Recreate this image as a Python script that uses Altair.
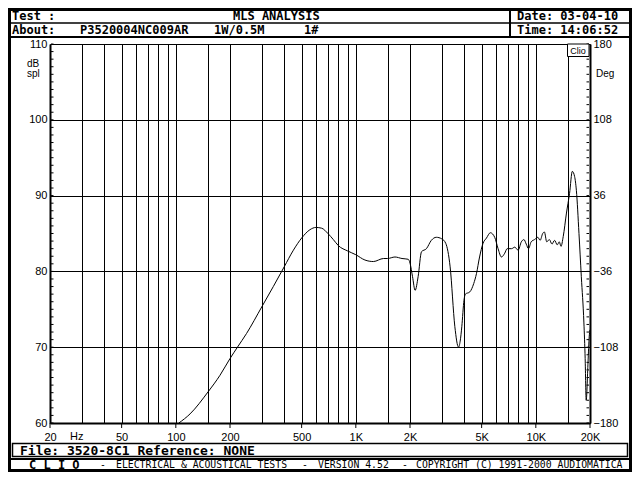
import altair as alt
import pandas as pd

freq_hz = [104, 120, 151, 176, 200, 220, 247, 300, 348, 400,
           450, 500, 556, 600, 646, 700, 750, 800, 900, 1000,
           1124, 1252, 1426, 1500, 1650, 1805, 1955, 2000, 2066, 2135,
           2219, 2317, 2468, 2628, 2800, 3000, 3160, 3342, 3550, 3720,
           3800, 3880, 3990, 4060, 4300, 4520, 4680, 4870, 5090, 5320,
           5590, 5910, 6170, 6440, 6720, 6930, 7330, 7640, 7970, 8310,
           8590, 8850, 9110, 9420, 9840, 10260, 10570, 10920, 11160, 11500,
           11890, 12300, 12710, 13160, 13500, 13800, 14200, 14800, 15400, 15950,
           16430, 16800, 17370, 17900, 18500, 18800, 19050, 19500, 19800, 20000]
spl_db = [60.0, 61.2, 64.1, 66.3, 68.5, 70.0, 71.8, 75.3, 78.0, 80.6,
          82.8, 84.4, 85.5, 85.8, 85.7, 85.0, 84.2, 83.4, 82.7, 82.2,
          81.5, 81.3, 81.7, 81.7, 81.9, 81.7, 81.6, 81.1, 79.3, 77.5,
          79.3, 82.6, 83.0, 84.1, 84.5, 84.3, 83.7, 80.6, 72.7, 70.0,
          70.8, 72.7, 76.2, 77.0, 77.3, 78.4, 79.7, 81.9, 83.7, 84.4,
          85.1, 84.5, 83.0, 81.9, 82.4, 83.0, 83.0, 83.2, 82.8, 83.9,
          84.2, 83.6, 83.0, 83.9, 84.2, 84.5, 84.1, 85.0, 85.2, 83.9,
          84.2, 83.6, 84.1, 83.5, 83.9, 83.3, 84.6, 87.7, 90.3, 93.2,
          92.5, 90.7, 85.0, 79.3, 73.2, 68.5, 63.0, 68.0, 71.4, 72.3]

# ---- axes ----
grid_freqs = [30, 40, 50, 60, 70, 80, 90, 100, 150, 200, 300, 400, 500, 600, 700,
              800, 900, 1000, 1500, 2000, 3000, 4000, 5000, 6000, 7000, 8000, 9000,
              10000, 15000]
label_freqs = [20, 50, 100, 200, 500, 1000, 2000, 5000, 10000, 20000]
db_ticks = [60, 70, 80, 90, 100, 110]
minor_db = list(range(60, 111))
phase_ticks = [-180, -108, -36, 36, 108, 180]

# ---- texts ----
header_row1 = [("Test :", 12), ("MLS ANALYSIS", 233), ("Date: 03-04-10", 517)]
header_row2 = [("About:", 12), ("P3520004NC009AR", 80), ("1W/0.5M", 214), ("1#", 304),
               ("Time: 14:06:52", 517)]
footer_file = "File: 3520-8C1 Reference: NONE"
footer_parts = [("-", 100), ("ELECTRICAL & ACOUSTICAL TESTS", 116), ("-", 302),
                ("VERSION 4.52", 318), ("-", 402),
                ("COPYRIGHT (C) 1991-2000 AUDIOMATICA", 416)]

W, H = 540, 379
OX, OY = 50, 44  # page position of plot origin
AXIS_FONT = "Liberation Sans"
MONO = "DejaVu Sans Mono"

df = pd.DataFrame({"f": freq_hz, "db": spl_db})

xscale = alt.Scale(type="log", domain=[20, 20000], nice=False)
yscale = alt.Scale(domain=[60, 110], nice=False, zero=False)

label_expr = ("indexof([20,50,100,200,500,1000,2000,5000,10000,20000], datum.value) >= 0 ? "
              "(datum.value >= 1000 ? (datum.value/1000) + 'K' : datum.value + '') : ''")

line = alt.Chart(df).mark_line(color="black", strokeWidth=1, clip=True,
                               interpolate="monotone").encode(
    x=alt.X("f:Q", scale=xscale, title=None,
            axis=alt.Axis(values=[20] + grid_freqs + [20000], grid=True, gridColor="black",
                          gridWidth=1, gridOpacity=1, ticks=False, domainColor="black",
                          domainWidth=2, labelExpr=label_expr, labelFont=AXIS_FONT,
                          labelFontSize=11, labelColor="black", labelPadding=8,
                          labelFlush=False, labelOverlap=False)),
    y=alt.Y("db:Q", scale=yscale, title=None,
            axis=alt.Axis(values=db_ticks, grid=True, gridColor="black", gridWidth=1,
                          gridOpacity=1, ticks=False, domainColor="black", domainWidth=2,
                          labelFont=AXIS_FONT, labelFontSize=11, labelColor="black",
                          labelPadding=3, orient="left", labelFlush=False)),
)

phase = alt.Chart(pd.DataFrame({"p": phase_ticks})).mark_point(opacity=0).encode(
    y=alt.Y("p:Q", scale=alt.Scale(domain=[-180, 180], nice=False, zero=False), title=None,
            axis=alt.Axis(values=phase_ticks, orient="right", grid=False, ticks=False,
                          domainColor="black", domainWidth=2, labelFont=AXIS_FONT,
                          labelFontSize=11, labelColor="black", labelPadding=3,
                          labelFlush=False)),
)

mdf = pd.DataFrame({"db": minor_db})
minor_left = alt.Chart(mdf).mark_rule(color="black", strokeWidth=1).encode(
    x=alt.value(1), x2=alt.value(3.5),
    y=alt.Y("db:Q", scale=yscale, axis=None))
minor_right = alt.Chart(mdf).mark_rule(color="black", strokeWidth=1).encode(
    x=alt.value(W - 3.5), x2=alt.value(W - 1),
    y=alt.Y("db:Q", scale=yscale, axis=None))

bottom_ticks = alt.Chart(pd.DataFrame({"f": label_freqs})).mark_rule(
    color="black", strokeWidth=1).encode(
    x=alt.X("f:Q", scale=xscale, title=None), y=alt.value(H), y2=alt.value(H + 5))


def txt(t, px, py, size=13, bold=True, font=MONO, align="left"):
    return alt.Chart(pd.DataFrame({"t": [t]})).mark_text(
        font=font, fontSize=size, fontWeight="bold" if bold else "normal",
        align=align, baseline="middle", color="black").encode(
        x=alt.value(px - OX), y=alt.value(py - OY), text="t:N")


def box(x1, y1, x2, y2, sw=1.5, fill=None):
    kw = dict(stroke="black", strokeWidth=sw)
    if fill:
        kw["fill"] = fill
    else:
        kw["fillOpacity"] = 0
    return alt.Chart(pd.DataFrame({"a": [0]})).mark_rect(**kw).encode(
        x=alt.value(x1 - OX), x2=alt.value(x2 - OX),
        y=alt.value(y1 - OY), y2=alt.value(y2 - OY))


def hline(x1, x2, y, sw=2):
    return alt.Chart(pd.DataFrame({"a": [0]})).mark_rule(color="black", strokeWidth=sw).encode(
        x=alt.value(x1 - OX), x2=alt.value(x2 - OX), y=alt.value(y - OY))


def vline(x, y1, y2, sw=2):
    return alt.Chart(pd.DataFrame({"a": [0]})).mark_rule(color="black", strokeWidth=sw).encode(
        x=alt.value(x - OX), y=alt.value(y1 - OY), y2=alt.value(y2 - OY))


deco = [
    box(9.5, 9.5, 630.5, 470.5, sw=3),
    hline(8, 632, 23, sw=1.5), hline(8, 632, 37), vline(510, 8, 38),
    box(12.5, 443.5, 627.5, 456.5, sw=1.5),
    hline(8, 632, 459),
    box(567.5, 44, 589, 56.5, sw=1, fill="white"),
    txt("Clio", 578, 50.5, size=9, bold=False, font=AXIS_FONT, align="center"),
    txt("dB", 27, 63.5, size=10, bold=False, font=AXIS_FONT),
    txt("spl", 27, 73.5, size=10, bold=False, font=AXIS_FONT),
    txt("Deg", 596, 74, size=10, bold=False, font=AXIS_FONT),
    txt("Hz", 70, 436.5, size=11, bold=False, font=AXIS_FONT),
    txt(footer_file, 20, 450.5, size=13),
    txt("C L I O", 29, 464.5, size=12),
]
for t, x in header_row1:
    deco.append(txt(t, x, 16, size=12))
for t, x in header_row2:
    deco.append(txt(t, x, 30, size=12))
for t, x in footer_parts:
    deco.append(txt(t, x, 464.5, size=9.8, bold=False))

chart = alt.layer(line, phase, minor_left, minor_right, bottom_ticks, *deco).resolve_scale(
    y="independent"
).properties(
    width=W, height=H, background="white",
    autosize=alt.AutoSizeParams(type="none"),
    padding={"left": 42, "top": 36, "right": 42, "bottom": 49},
).configure_view(strokeWidth=0)

chart.save("out.html", embed_options={"renderer": "svg", "actions": False})
